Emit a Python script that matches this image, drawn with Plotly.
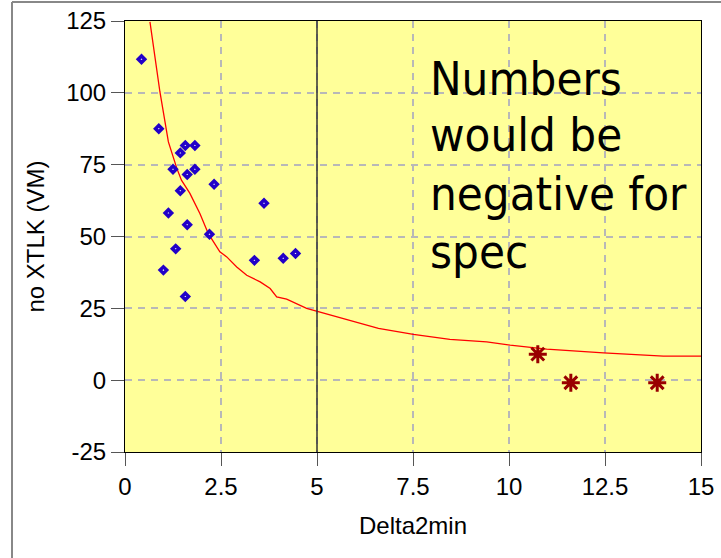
import plotly.graph_objects as go

# Measured points: Delta2min vs. no-crosstalk margin (VM)
meas_x = [0.43, 0.88, 1.57, 1.82, 1.44, 1.25, 1.82, 1.62, 2.32, 1.44,
          3.62, 1.13, 1.62, 2.20, 1.32, 3.37, 4.12, 4.44, 1.00, 1.57]
meas_y = [111.7, 87.5, 81.7, 81.7, 79.1, 73.4, 73.4, 71.6, 68.2, 65.9,
          61.6, 58.2, 54.1, 50.8, 45.7, 41.7, 42.4, 44.1, 38.3, 29.1]

# Spec cases
spec_x = [10.75, 11.61, 13.86]
spec_y = [9.05, -0.9, -0.9]

# Fitted limit curve
fit_x = [0.65, 0.91, 1.13, 1.35, 1.47, 1.69, 1.95, 2.17, 2.47, 2.65, 2.91,
         3.17, 3.52, 3.78, 3.95, 4.21, 4.73, 4.99, 5.69, 6.6, 7.51, 8.46,
         9.42, 10.03, 10.98, 12.46, 14.02, 15.0]
fit_y = [124.7, 100.3, 82.9, 73.7, 69.6, 65.0, 58.0, 51.0, 44.7, 42.9, 39.4,
         36.5, 34.2, 31.9, 29.0, 28.2, 25.0, 24.0, 21.5, 18.0, 15.9, 14.2,
         13.3, 12.2, 10.8, 9.5, 8.4, 8.4]

note_lines = ["Numbers", "would be", "negative for", "spec"]
note_y = [105.0, 85.5, 65.0, 44.8]

x_ticks = [0, 2.5, 5, 7.5, 10, 12.5, 15]
x_labels = ["0", "2.5", "5", "7.5", "10", "12.5", "15"]
y_ticks = [-25, 0, 25, 50, 75, 100, 125]
y_labels = ["-25", "0", "25", "50", "75", "100", "125"]

fig = go.Figure()
fig.add_trace(go.Scatter(
    x=fit_x, y=fit_y, mode="lines",
    line=dict(color="#FF0000", width=1.3), hoverinfo="skip"))
fig.add_trace(go.Scatter(
    x=meas_x, y=meas_y, mode="markers",
    marker=dict(symbol="diamond", size=5, color="#FFFFFF",
                line=dict(color="#2200C8", width=3.5))))
fig.add_trace(go.Scatter(
    x=spec_x, y=spec_y, mode="markers",
    marker=dict(symbol="asterisk", size=15,
                line=dict(color="#990000", width=3))))

# divider at Delta2min = 5
fig.add_shape(type="line", x0=5, x1=5, y0=-25, y1=125, xref="x", yref="y",
              line=dict(color="#333333", width=1.5), layer="above")

# outer frame (left and top edges)
fig.add_shape(type="line", xref="paper", yref="paper",
              x0=-113 / 576, x1=-113 / 576, y0=-106 / 431, y1=19 / 431 + 1,
              line=dict(color="#888888", width=2))
fig.add_shape(type="line", xref="paper", yref="paper",
              x0=-113 / 576, x1=1.05, y0=19 / 431 + 1, y1=19 / 431 + 1,
              line=dict(color="#888888", width=2))

for txt, yy in zip(note_lines, note_y):
    fig.add_annotation(x=7.9, y=yy, xref="x", yref="y", text=txt,
                       showarrow=False, xanchor="left", yanchor="middle",
                       font=dict(family="DejaVu Sans Condensed, DejaVu Sans",
                                 size=47, color="#000000"))

grid = dict(showgrid=True, gridcolor="#B8B8B8", gridwidth=1.5,
            griddash="7px,6px", zeroline=False, automargin=False,
            showline=True, linecolor="#000000", linewidth=1, mirror=True,
            ticks="outside", ticklen=13, tickcolor="#555555", tickwidth=1,
            tickfont=dict(family="Liberation Sans, Arial", size=24, color="#000000"))

fig.update_xaxes(range=[0, 15], tickvals=x_ticks, ticktext=x_labels,
                 title=dict(text="Delta2min", standoff=18,
                            font=dict(family="Liberation Sans, Arial", size=24, color="#000000")),
                 **grid)
fig.update_yaxes(range=[-25, 125], tickvals=y_ticks, ticktext=y_labels,
                 title=dict(text="no XTLK (VM)", standoff=14,
                            font=dict(family="Liberation Sans, Arial", size=24, color="#000000")),
                 **grid)

fig.update_layout(
    width=721, height=558,
    margin=dict(l=125, r=20, t=21, b=106),
    paper_bgcolor="#FFFFFF", plot_bgcolor="#FFFF99",
    showlegend=False,
)

fig.write_html("out.html")
